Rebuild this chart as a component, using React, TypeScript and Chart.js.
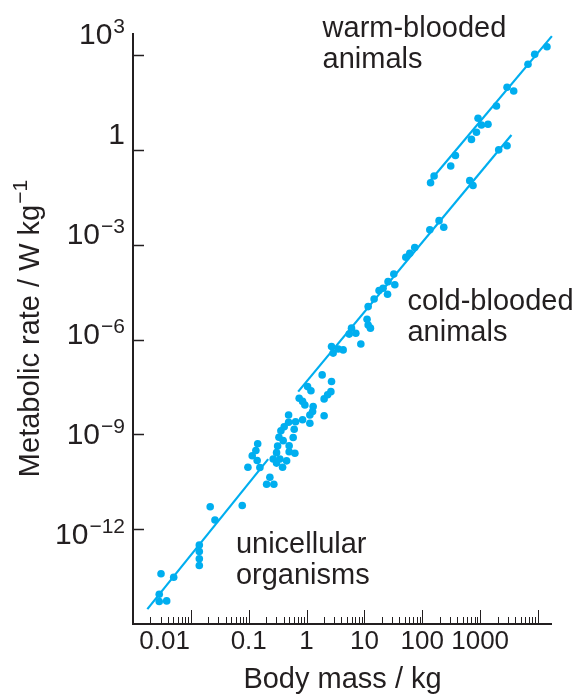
import React, { useEffect, useRef } from 'react';
import { Chart, registerables } from 'chart.js';

Chart.register(...registerables);

// ---------------- data (body mass / kg, metabolic rate / W kg^-1) ----------------
const unicellularMass = [
  2.84e-3, 3.82e-3, 2.84e-3, 3.05e-3, 5.05e-3, 1.4e-2, 1.4e-2, 1.4e-2, 1.4e-2, 2.61e-2,
  2.16e-2, 7.73e-2, 9.69e-2, 0.115, 0.133, 0.143, 0.14, 0.156, 0.204, 0.232,
  0.272, 0.265, 0.303, 0.303, 0.316, 0.346, 0.385, 0.394, 0.333, 0.36,
  0.41, 0.452, 0.5, 0.5, 0.489, 0.489, 0.587, 0.611, 0.628, 0.646,
];
const unicellularRate = [
  5.13e-15, 5.37e-15, 8.71e-15, 3.89e-14, 3.02e-14, 3.16e-13, 1.95e-13, 1.15e-13, 7.08e-14, 1.95e-12,
  5.13e-12, 5.62e-12, 9.12e-11, 2.09e-10, 3.09e-10, 5.01e-10, 1.48e-10, 8.91e-11, 2.63e-11, 4.37e-11,
  2.63e-11, 1.66e-10, 2.63e-10, 1.23e-10, 4.27e-10, 1.66e-10, 9.12e-11, 6.31e-10, 8.13e-10, 1.29e-9,
  1.74e-9, 1.45e-10, 2.82e-10, 4.37e-10, 2.4e-9, 4.07e-9, 7.94e-10, 1.45e-9, 2.51e-10, 2.51e-9,
];

const coldMass = [
  0.853, 0.745, 0.853, 0.935, 1.14, 1.14, 1.27, 1.3, 2.01, 2.01,
  2.31, 2.63, 2.7, 1.04, 1.19, 1.86, 2.7, 2.88, 3.52, 4.29,
  5.45, 5.98, 7.1, 8.67, 11.1, 11.6, 12.7, 11.6, 14.7, 17.9,
  21.0, 25.1, 25.6, 32.2, 33.5, 51.9, 60.8, 74.1, 135, 195,
  235, 661, 753, 2094, 2917,
];
const coldRate = [
  2.88e-9, 1.38e-8, 1.1e-8, 8.51e-9, 2.24e-9, 4.07e-9, 5.25e-9, 7.59e-9, 3.89e-9, 1.32e-8,
  1.78e-8, 2.24e-8, 4.68e-8, 3.24e-8, 2.4e-8, 7.59e-8, 5.96e-7, 3.72e-7, 5.01e-7, 4.68e-7,
  1.48e-6, 2.29e-6, 1.58e-6, 7.24e-7, 4.37e-6, 2.88e-6, 2.29e-6, 1.1e-5, 1.91e-5, 3.55e-5,
  4.17e-5, 2.69e-5, 6.76e-5, 1.17e-4, 5.37e-5, 3.98e-4, 5.37e-4, 8.13e-4, 2.95e-3, 5.75e-3,
  3.55e-3, 0.106, 0.0741, 1.0, 1.35,
];

const warmMass = [139, 160, 310, 374, 708, 863, 920, 1052, 1368, 1914, 2917, 3802, 6714, 8770, 14290];
const warmRate = [0.0912, 0.148, 0.309, 0.661, 2.14, 3.59, 10.0, 6.11, 6.46, 24.4, 95.5, 72.4, 508, 1047, 1820];

// fitted lines (end points)
const unicellularLineMass = [1.77e-3, 0.217];
const unicellularLineRate = [2.95e-15, 1.64e-10];
const coldLineMass = [0.716, 3475];
const coldLineRate = [2.25e-8, 2.95];
const warmLineMass = [126, 17380];
const warmLineRate = [0.0875, 3963];

// axes
const xTickValues = [0.01, 0.1, 1, 10, 100, 1000];
const xTickLabels = ['0.01', '0.1', '1', '10', '100', '1000'];
const yTickExponents = [3, 0, -3, -6, -9, -12];

// text annotations (anchored in data space: left edge / first baseline)
const annotationLines = [
  ['warm-blooded', 'animals'],
  ['cold-blooded', 'animals'],
  ['unicellular', 'organisms'],
];
const annotationMass = [1.89, 55.5, 0.0601];
const annotationRate = [3793, 8.61e-6, 1.82e-13];

const xTitle = 'Body mass / kg';
const yTitleMain = 'Metabolic rate / W kg';
const yTitleSup = '\u22121';

// ---------------- styling ----------------
const INK = '#231f20';
const CYAN = '#00aeef';
const FONT = '"Liberation Sans", Arial, Helvetica, sans-serif';

const toPoints = (xs: number[], ys: number[]) => xs.map((x, i) => ({ x, y: ys[i] }));

const supLabel = (e: number) => (e === 0 ? ['1', ''] : ['10', e < 0 ? '\u2212' + Math.abs(e) : String(e)]);

const axesPlugin = {
  id: 'textbookAxes',
  beforeDatasetsDraw(chart: any) {
    const { ctx, chartArea: a } = chart;
    const xs = chart.scales.x;
    const ys = chart.scales.y;
    ctx.save();
    ctx.strokeStyle = INK;
    ctx.lineWidth = 2;
    ctx.beginPath();
    ctx.moveTo(a.left, a.top);
    ctx.lineTo(a.left, a.bottom);
    ctx.lineTo(a.right, a.bottom);
    ctx.stroke();

    // x ticks (inward), major at decades, minor at 2..9
    ctx.lineWidth = 1;
    ctx.beginPath();
    const lo = Math.floor(Math.log10(xs.min));
    const hi = Math.ceil(Math.log10(xs.max));
    for (let e = lo; e <= hi; e++) {
      for (let m = 1; m <= 9; m++) {
        const v = m * Math.pow(10, e);
        if (v <= xs.min * 1.001 || v > xs.max) continue;
        const px = Math.round(xs.getPixelForValue(v)) + 0.5;
        ctx.moveTo(px, a.bottom - 1);
        ctx.lineTo(px, a.bottom - (m === 1 ? 14 : 7));
      }
    }
    ctx.stroke();

    // y ticks (inward)
    ctx.lineWidth = 1.3;
    ctx.beginPath();
    for (const e of yTickExponents) {
      const py = Math.round(ys.getPixelForValue(Math.pow(10, e))) + 0.5;
      ctx.moveTo(a.left + 1, py);
      ctx.lineTo(a.left + 11, py);
    }
    ctx.stroke();
    ctx.restore();
  },
  afterDatasetsDraw(chart: any) {
    const { ctx, chartArea: a } = chart;
    const xs = chart.scales.x;
    const ys = chart.scales.y;
    const yl = chart.scales.yLabels;
    ctx.save();
    ctx.fillStyle = INK;
    ctx.textBaseline = 'alphabetic';

    // x tick labels
    ctx.font = `26px ${FONT}`;
    xTickValues.forEach((v, i) => {
      const px = xs.getPixelForValue(v);
      ctx.textAlign = i === 0 ? 'right' : 'center';
      ctx.fillText(xTickLabels[i], i === 0 ? px - 1 : px, a.bottom + 25);
    });

    // y tick labels with superscripts
    const baseSize = 30;
    const supSize = 21;
    const rightEdge = a.left - 8;
    ctx.textAlign = 'left';
    yTickExponents.forEach((e) => {
      const [base, sup] = supLabel(e);
      const py = yl.getPixelForValue(Math.pow(10, e));
      ctx.font = `${baseSize}px ${FONT}`;
      const wb = ctx.measureText(base).width;
      ctx.font = `${supSize}px ${FONT}`;
      const ws = sup ? ctx.measureText(sup).width + 1 : 0;
      const x0 = rightEdge - wb - ws;
      ctx.font = `${baseSize}px ${FONT}`;
      ctx.fillText(base, x0, py);
      if (sup) {
        ctx.font = `${supSize}px ${FONT}`;
        ctx.fillText(sup, x0 + wb + 1, py - 11);
      }
    });

    // x title
    ctx.font = `29px ${FONT}`;
    ctx.textAlign = 'center';
    ctx.fillText(xTitle, (a.left + a.right) / 2, a.bottom + 64);

    // y title (rotated, with superscript)
    ctx.save();
    ctx.translate(39, (a.top + a.bottom) / 2);
    ctx.rotate(-Math.PI / 2);
    ctx.font = `29px ${FONT}`;
    const wm = ctx.measureText(yTitleMain).width;
    ctx.font = `21px ${FONT}`;
    const wsu = ctx.measureText(yTitleSup).width;
    const start = -(wm + wsu + 1) / 2;
    ctx.textAlign = 'left';
    ctx.font = `29px ${FONT}`;
    ctx.fillText(yTitleMain, start, 0);
    ctx.font = `21px ${FONT}`;
    ctx.fillText(yTitleSup, start + wm + 1, -12);
    ctx.restore();

    // annotations
    ctx.font = `29px ${FONT}`;
    ctx.textAlign = 'left';
    annotationLines.forEach((lines, i) => {
      const px = xs.getPixelForValue(annotationMass[i]);
      const py = ys.getPixelForValue(annotationRate[i]);
      lines.forEach((t, j) => ctx.fillText(t, px, py + j * 31));
    });
    ctx.restore();
  },
};

export default function App() {
  const ref = useRef<HTMLCanvasElement>(null);
  useEffect(() => {
    const canvas = ref.current;
    if (!canvas) return;
    const pointStyle = {
      showLine: false,
      pointRadius: 3.8,
      pointHoverRadius: 3.8,
      pointBackgroundColor: CYAN,
      pointBorderWidth: 0,
      borderColor: CYAN,
    };
    const lineStyle = {
      showLine: true,
      pointRadius: 0,
      pointHoverRadius: 0,
      borderColor: CYAN,
      borderWidth: 2.2,
      fill: false,
    };
    const chart = new Chart(canvas, {
      type: 'scatter',
      data: {
        datasets: [
          { label: 'unicellular organisms', data: toPoints(unicellularMass, unicellularRate), ...pointStyle },
          { label: 'cold-blooded animals', data: toPoints(coldMass, coldRate), ...pointStyle },
          { label: 'warm-blooded animals', data: toPoints(warmMass, warmRate), ...pointStyle },
          { label: 'unicellular fit', data: toPoints(unicellularLineMass, unicellularLineRate), ...lineStyle },
          { label: 'cold-blooded fit', data: toPoints(coldLineMass, coldLineRate), ...lineStyle },
          { label: 'warm-blooded fit', data: toPoints(warmLineMass, warmLineRate), ...lineStyle },
        ] as any,
      },
      options: {
        responsive: false,
        animation: false,
        devicePixelRatio: 1,
        events: [],
        clip: false as any,
        layout: { padding: { left: 133, right: 27, top: 33, bottom: 70 } },
        plugins: { legend: { display: false }, tooltip: { enabled: false }, title: { display: false } },
        scales: {
          x: { type: 'logarithmic', min: 1e-3, max: 17458, display: false },
          y: { type: 'logarithmic', min: 1e-15, max: 4966, display: false },
          yLabels: { type: 'logarithmic', position: 'left', min: 3.89e-15, max: 2183, display: false },
        },
      } as any,
      plugins: [axesPlugin],
    });
    return () => chart.destroy();
  }, []);
  return (
    <div style={{ position: 'absolute', left: 0, top: 0, width: 579, height: 694 }}>
      <canvas ref={ref} width={579} height={694} style={{ display: 'block', width: 579, height: 694 }} />
    </div>
  );
}
